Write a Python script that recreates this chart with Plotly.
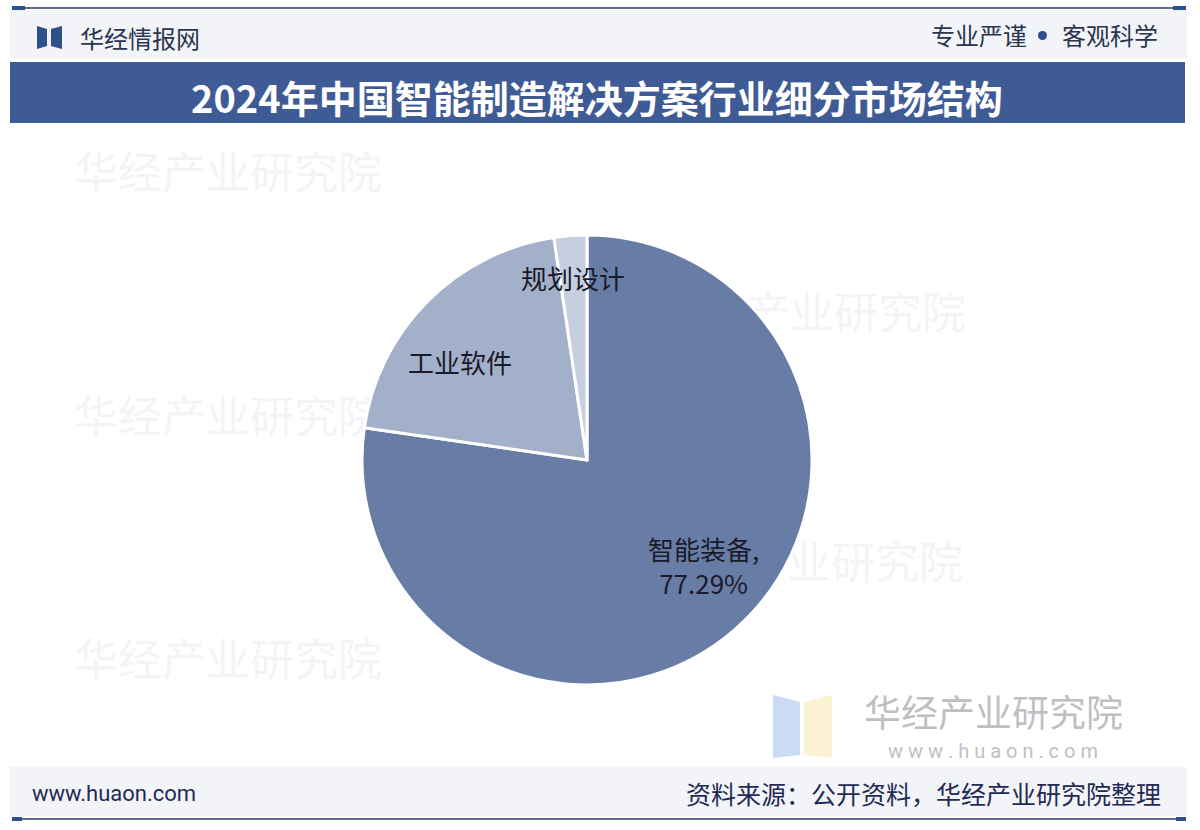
import plotly.graph_objects as go

categories = ["智能装备", "工业软件", "规划设计"]
shares = [77.29, 20.36, 2.35]
colors = ["#687da6", "#a3b0c9", "#c6cfdf"]

title = "2024年中国智能制造解决方案行业细分市场结构"
brand = "华经情报网"
slogan_left = "专业严谨"
slogan_right = "客观科学"
site = "www.huaon.com"
source = "资料来源：公开资料，华经产业研究院整理"
watermark = "华经产业研究院"
watermark_part = "业研究院"

W, H = 1200, 830
CJK = "Noto Sans CJK SC"

fig = go.Figure()

# faint background watermarks (drawn beneath the pie)
wm_x = [228, 228, 228, 812, 875]
wm_y = [178, 422, 665, 318, 568]
wm_t = [watermark, watermark, watermark, watermark, watermark_part]
fig.add_trace(go.Scatter(x=wm_x, y=wm_y, mode="text", text=wm_t,
                         textfont=dict(size=44, color="rgba(215,218,228,0.3)", family=CJK),
                         hoverinfo="skip", showlegend=False))

cx, cy, r = 587, 460, 225
fig.add_trace(go.Pie(
    labels=categories, values=shares, sort=False, direction="clockwise", rotation=0,
    marker=dict(colors=colors, line=dict(color="white", width=3)),
    textinfo="none", hoverinfo="label+percent", showlegend=False,
    domain=dict(x=[(cx - r) / W, (cx + r) / W], y=[(H - cy - r) / H, (H - cy + r) / H]),
))

shapes = []
ann = []

def px(x):
    return x / W

def py(y):
    return 1 - y / H

def p(x, y):
    return f"{px(x)},{py(y)}"

# header light band
shapes.append(dict(type="rect", xref="paper", yref="paper", x0=px(10), x1=px(1187), y0=py(58), y1=py(10),
                   fillcolor="#f3f4f8", line=dict(width=0), layer="below"))
# top line
shapes.append(dict(type="line", xref="paper", yref="paper", x0=px(12), x1=px(1186), y0=py(8), y1=py(8),
                   line=dict(color="#2b3a5c", width=1.5)))
shapes.append(dict(type="line", xref="paper", yref="paper", x0=px(12), x1=px(25), y0=py(8), y1=py(8),
                   line=dict(color="#2d4f8a", width=4)))
shapes.append(dict(type="line", xref="paper", yref="paper", x0=px(1173), x1=px(1186), y0=py(8), y1=py(8),
                   line=dict(color="#2d4f8a", width=4)))
# title band
shapes.append(dict(type="rect", xref="paper", yref="paper", x0=px(10), x1=px(1185), y0=py(123), y1=py(62),
                   fillcolor="#3f5b95", line=dict(width=0)))
# logo icon
shapes.append(dict(type="path", xref="paper", yref="paper",
                   path=f"M {p(37,26)} L {p(47,29)} L {p(47,46)} L {p(37,49)} Z",
                   fillcolor="#2d4f8a", line=dict(width=0)))
shapes.append(dict(type="path", xref="paper", yref="paper",
                   path=f"M {p(62,26)} L {p(51,29)} L {p(51,46)} L {p(62,49)} Z",
                   fillcolor="#2d4f8a", line=dict(width=0)))
# slogan dot
shapes.append(dict(type="circle", xref="paper", yref="paper", x0=px(1038), x1=px(1047), y0=py(40), y1=py(31),
                   fillcolor="#2d4f8a", line=dict(width=0)))
# footer band
shapes.append(dict(type="rect", xref="paper", yref="paper", x0=px(10), x1=px(1187), y0=py(816), y1=py(767),
                   fillcolor="#f3f4f8", line=dict(width=0), layer="below"))
shapes.append(dict(type="line", xref="paper", yref="paper", x0=px(12), x1=px(1186), y0=py(819), y1=py(819),
                   line=dict(color="#2b3a5c", width=1.5)))
shapes.append(dict(type="line", xref="paper", yref="paper", x0=px(12), x1=px(22), y0=py(819), y1=py(819),
                   line=dict(color="#2d4f8a", width=4)))
shapes.append(dict(type="line", xref="paper", yref="paper", x0=px(1176), x1=px(1186), y0=py(819), y1=py(819),
                   line=dict(color="#2d4f8a", width=4)))
# bottom-right watermark logo
shapes.append(dict(type="path", xref="paper", yref="paper", layer="below",
                   path=f"M {p(773,695)} L {p(800,702)} L {p(800,755)} L {p(773,758)} Z",
                   fillcolor="rgba(190,210,240,0.8)", line=dict(width=0)))
shapes.append(dict(type="path", xref="paper", yref="paper", layer="below",
                   path=f"M {p(832,695)} L {p(804,702)} L {p(804,755)} L {p(832,758)} Z",
                   fillcolor="rgba(250,238,200,0.8)", line=dict(width=0)))

def text(x, y, s, size, color, anchor="left", family=CJK, weight=None):
    ann.append(dict(x=px(x), y=py(y), xref="paper", yref="paper", text=s, showarrow=False,
                    xanchor=anchor, yanchor="middle",
                    font=dict(size=size, color=color, family=family, weight=weight)))

text(78, 37, brand, 24, "#2a3550")
text(1029, 35, slogan_left, 24, "#2a3550", anchor="right")
text(1160, 35, slogan_right, 24, "#2a3550", anchor="right")
text(597, 97, title, 38, "white", anchor="center", weight="bold")
text(30, 793, site, 22, "#1f2a55", family="Roboto")
text(1163, 793, source, 25, "#1f2a55", anchor="right")

text(993, 711, watermark, 37, "rgba(170,170,175,0.75)", anchor="center")
text(993, 751, "w w w . h u a o n . c o m", 20, "rgba(170,170,175,0.75)", anchor="center", family="Roboto")

# slice labels
text(460, 361, categories[1], 26, "#1a1a2a", anchor="center")
text(573, 277, categories[2], 26, "#1a1a2a", anchor="center")
text(703, 565, f"{categories[0]},<br>{shares[0]:.2f}%", 26, "#1a1a2a", anchor="center")

fig.update_layout(width=W, height=H, margin=dict(l=0, r=0, t=0, b=0),
                  paper_bgcolor="white", plot_bgcolor="rgba(0,0,0,0)",
                  xaxis=dict(range=[0, W], visible=False, domain=[0, 1], fixedrange=True),
                  yaxis=dict(range=[H, 0], visible=False, domain=[0, 1], fixedrange=True),
                  shapes=shapes, annotations=ann)

fig.write_html("out.html", config={"displayModeBar": False},
               post_script="document.body.style.margin='0px';document.body.style.padding='0px';")
